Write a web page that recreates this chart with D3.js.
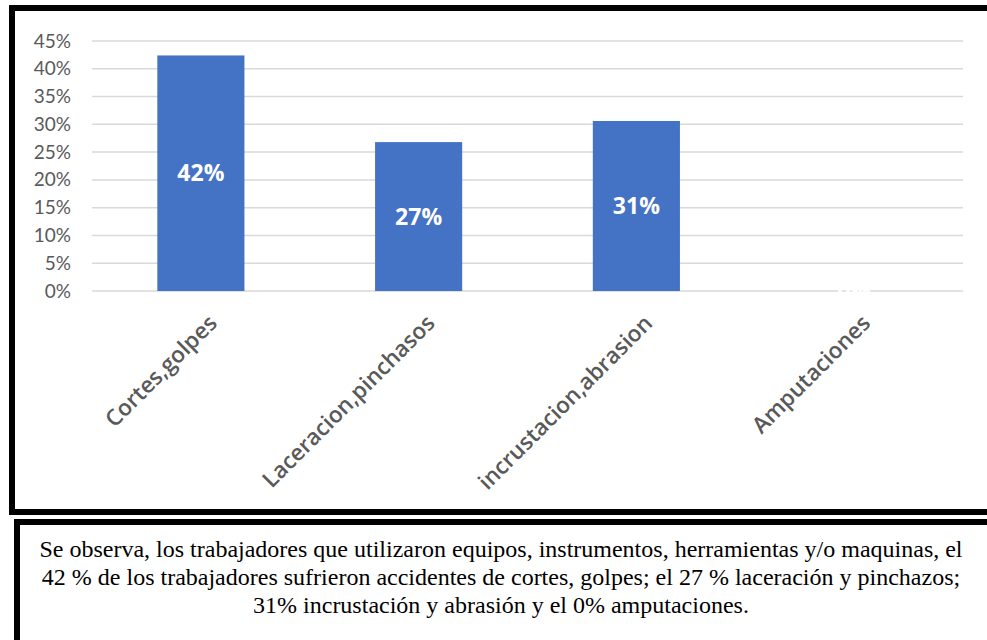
<!DOCTYPE html>
<html>
<head>
<meta charset="utf-8">
<script src="https://cdn.jsdelivr.net/npm/d3@7"></script>
<style>
  body { margin: 0; background: #fff; }
  svg { display: block; }
</style>
</head>
<body>
<div id="canvas"></div>
<script>
// Data
const categories = ['Cortes,golpes', 'Laceracion,pinchasos', 'incrustacion,abrasion', 'Amputaciones']
const values = [0.424, 0.268, 0.306, 0]
const valueLabels = ['42%', '27%', '31%', '0%']
const yTicks = [0, 0.05, 0.10, 0.15, 0.20, 0.25, 0.30, 0.35, 0.40, 0.45]
const noteLines = [
    'Se observa, los trabajadores que utilizaron equipos, instrumentos, herramientas y/o maquinas, el',
    '42 % de los trabajadores sufrieron accidentes de cortes, golpes; el 27 % laceración y pinchazos;',
    '31% incrustación y abrasión y el 0% amputaciones.'
]

const width = 987
const height = 640

const svg = d3.select('#canvas')
    .append('svg').attr('width', width).attr('height', height)

// outer frames
svg.append('rect')
    .attr('x', 12).attr('y', 8)
    .attr('width', 1000).attr('height', 504)
    .attr('fill', 'none').attr('stroke', '#000').attr('stroke-width', 6)
svg.append('rect')
    .attr('x', 17).attr('y', 522)
    .attr('width', 1000).attr('height', 200)
    .attr('fill', 'none').attr('stroke', '#000').attr('stroke-width', 6)

// scales
const plotLeft = 92, plotRight = 963, plotTop = 41, plotBottom = 291

const x = d3.scaleBand()
    .domain(categories)
    .range([plotLeft, plotRight])
    .paddingInner(0.6)
    .paddingOuter(0.3)

const y = d3.scaleLinear()
    .domain([0, 0.45])
    .range([plotBottom, plotTop])

// gridlines
svg.append('g')
    .selectAll('line')
    .data(yTicks)
    .join('line')
    .attr('x1', plotLeft).attr('x2', plotRight)
    .attr('y1', d => y(d)).attr('y2', d => y(d))
    .attr('stroke', '#d9d9d9').attr('stroke-width', 1.5)

// y axis labels
const yAxis = d3.axisLeft(y)
    .tickValues(yTicks)
    .tickFormat(d3.format('.0%'))
    .tickSize(0)
    .tickPadding(0)
svg.append('g')
    .attr('transform', `translate(71,0)`)
    .call(yAxis)
    .call(g => g.select('.domain').remove())
    .selectAll('text')
    .attr('fill', '#595959')
    .style('font-family', 'Lato, "Open Sans", sans-serif')
    .style('font-size', '19px')

// bars
svg.append('g')
    .selectAll('rect')
    .data(values)
    .join('rect')
    .attr('x', (d, i) => x(categories[i]))
    .attr('y', d => y(d))
    .attr('width', x.bandwidth())
    .attr('height', d => y(0) - y(d))
    .attr('fill', '#4472c4')

// data labels
svg.append('g')
    .selectAll('text')
    .data(values)
    .join('text')
    .attr('x', (d, i) => x(categories[i]) + x.bandwidth() / 2)
    .attr('y', d => (y(d) + y(0)) / 2)
    .attr('dy', '0.35em')
    .attr('text-anchor', 'middle')
    .attr('fill', '#fff')
    .style('font-family', '"Open Sans", sans-serif')
    .style('font-weight', 'bold')
    .style('font-size', '23px')
    .text((d, i) => valueLabels[i])

// category labels, rotated
svg.append('g')
    .selectAll('text')
    .data(categories)
    .join('text')
    .attr('transform', d => `translate(${x(d) + x.bandwidth() / 2 + 12},${plotBottom + 28}) rotate(-45)`)
    .attr('text-anchor', 'end')
    .attr('dy', '0.35em')
    .attr('fill', '#595959')
    .style('font-family', '"Open Sans", sans-serif')
    .style('font-weight', 600)
    .style('font-size', '22.5px')
    .text(d => d)

// note text
svg.append('g')
    .selectAll('text')
    .data(noteLines)
    .join('text')
    .attr('x', 501)
    .attr('y', (d, i) => 557 + i * 28)
    .attr('text-anchor', 'middle')
    .attr('fill', '#000')
    .style('font-family', '"Liberation Serif", "Times New Roman", serif')
    .style('font-size', '24px')
    .text(d => d)
</script>
</body>
</html>
